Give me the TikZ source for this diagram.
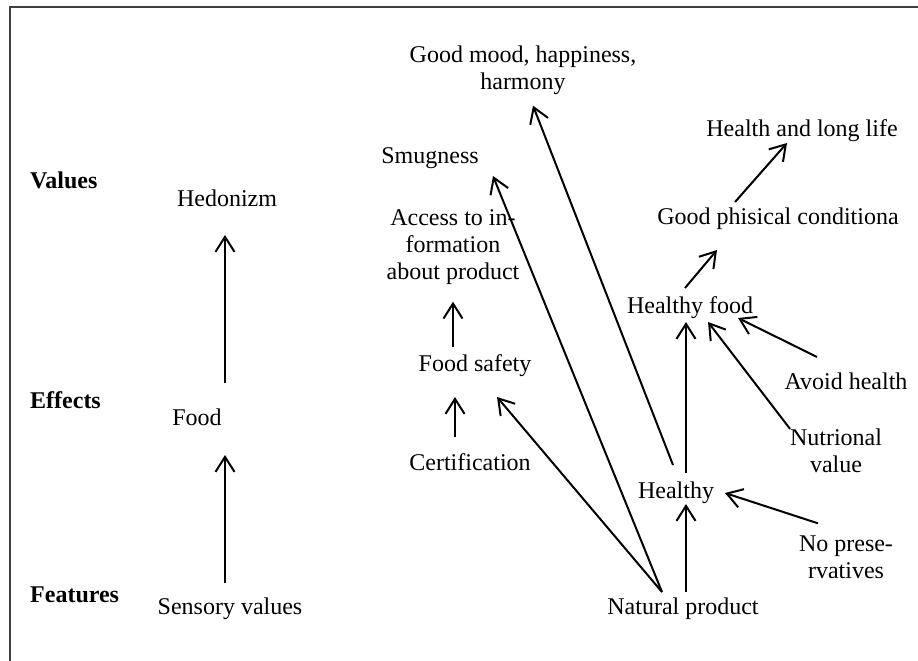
\documentclass[tikz,border=0pt]{standalone}
\usepackage{fontspec}
\setmainfont{Liberation Serif}
\usetikzlibrary{calc,arrows.meta}
\tikzset{
	lbl/.style={inner sep=0pt, font=\fontsize{24}{27}\selectfont},
	lvl/.style={inner sep=0pt, anchor=base west, font=\fontsize{24}{27}\selectfont\bfseries},
	arr/.style={line width=2pt, -{Straight Barb[length=15pt,width=19pt]}}
}

\begin{document}
\begin{tikzpicture}[x=1pt, y=-1pt]
		%%%%% START %%%%%
		\useasboundingbox (0, 0) rectangle (918, 661);
		\draw[line width=2pt, color=black!75] (918, 7) -- (10, 7) -- (10, 661);
		
		\node[lvl] (values) at (30, 188) {Values};
		\node[lvl] (effects) at (30, 408) {Effects};
		\node[lvl] (features) at (30, 602) {Features};
		
		\node[lbl, anchor=base] (hedon) at (227, 206) {Hedonizm};
		\node[lbl, anchor=base] (food) at (197, 425) {Food};
		\node[lbl, anchor=base] (sens) at (230, 614) {Sensory values};
		
		\node[lbl, align=center] (gmood) at (523, 70) {Good mood, happiness,\\harmony};
		\node[lbl, anchor=base] (smug) at (430, 163) {Smugness};
		\node[lbl, align=center] (access) at (453, 247) {Access to in-\\formation\\about product};
		\node[lbl, anchor=base] (fsafe) at (475, 371) {Food safety};
		\node[lbl, anchor=base] (cert) at (470, 470) {Certification};
		\node[lbl, anchor=base] (nat) at (683, 614) {Natural product};
		
		\node[lbl, anchor=base] (life) at (802, 136) {Health and long life};
		\node[lbl, anchor=base] (phys) at (778, 224) {Good phisical conditiona};
		\node[lbl, anchor=base] (hfood) at (690, 313) {Healthy food};
		\node[lbl, anchor=base] (avoid) at (846, 389) {Avoid health};
		\node[lbl, align=center] (nutr) at (836, 451) {Nutrional\\value};
		\node[lbl, anchor=base] (healthy) at (676, 498) {Healthy};
		\node[lbl, align=center] (nopres) at (846, 557) {No prese-\\rvatives};
		
		\draw[arr] ($(sens.base)+(-5, -31)$) -- ($(food.base)+(28, 30)$);
		\draw[arr] ($(food.base)+(28, -42)$) -- ($(hedon.base)+(-2, 29)$);
		
		\draw[arr] ($(cert.base)+(-15, -33)$) -- ($(fsafe.base)+(-20, 26)$);
		\draw[arr] ($(fsafe.base)+(-22, -24)$) -- ($(access.south)+(0, 17)$);
		\draw[arr] ($(nat.base)+(-21, -22)$) -- ($(fsafe.base)+(22, 26)$);
		\draw[arr] ($(nat.base)+(-21, -22)$) -- ($(smug.base)+(63, 13)$);
		\draw[arr] ($(healthy.base)+(-3, -33)$) -- ($(gmood.south)+(10, 11)$);
		
		\draw[arr] ($(nat.base)+(3, -22)$) -- ($(healthy.base)+(10, 6)$);
		\draw[arr] ($(healthy.base)+(10, -25)$) -- ($(hfood.base)+(-4, 9)$);
		\draw[arr] ($(nopres.north)+(-28, -12)$) -- ($(healthy.base)+(49, -5)$);
		\draw[arr] ($(nutr.north)+(-46, 0)$) -- ($(hfood.base)+(18, 9)$);
		\draw[arr] ($(avoid.base)+(-29, -32)$) -- ($(hfood.base)+(48, 5)$);
		\draw[arr] ($(hfood.base)+(-5, -25)$) -- ($(phys.base)+(-61, 26)$);
		\draw[arr] ($(phys.base)+(-43, -22)$) -- ($(life.base)+(-15, 7)$);
		
		%%%%% END %%%%%
\end{tikzpicture}
\end{document}
